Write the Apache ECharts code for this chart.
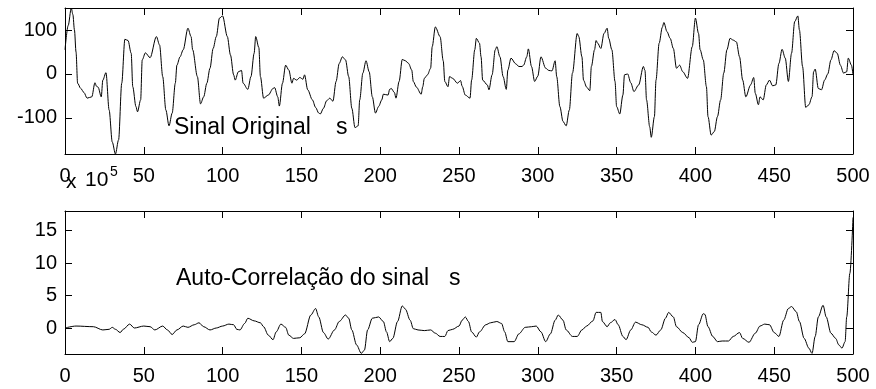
<!DOCTYPE html>
<html>
<head>
<meta charset="utf-8">
<script src="https://cdn.jsdelivr.net/npm/echarts@6/dist/echarts.min.js"></script>
<style>
  html, body { margin: 0; padding: 0; background: #fff; }
  #chart { width: 876px; height: 389px; }
</style>
</head>
<body>
<div id="chart"></div>
<script>
// Original signal s: sample index / amplitude
const sigIdx = [0,2,4,5,6,7,8,10,12,14,17,19,20,21,23,24,26,28,30,32,34,36,38,40,42,43,45,46,48,49,51,54,58,60,62,64,66,68,70,71,73,75,78,80,81,84,86,88,90,92,94,96,98,100,103,105,107,108,110,112,113,116,118,120,121,123,124,126,129,132,133,135,136,138,140,142,144,145,147,149,151,152,154,157,159,161,162,164,166,168,170,172,174,176,178,180,182,184,186,187,189,191,193,195,197,199,201,202,205,206,207,209,210,212,214,216,218,220,221,223,226,227,228,230,232,233,235,238,240,241,243,244,246,249,251,252,254,257,258,260,261,263,264,265,268,269,271,273,274,276,278,280,281,283,286,288,290,291,293,294,296,298,300,302,305,307,309,311,312,314,316,318,320,322,325,326,328,329,331,333,334,336,337,338,340,342,344,345,347,349,350,352,354,355,357,359,361,364,367,368,369,371,372,374,375,377,379,380,382,384,386,388,390,392,395,398,400,402,403,405,407,408,410,412,414,416,418,420,422,424,426,428,430,432,435,437,438,440,441,443,445,447,449,451,453,455,457,459,461,463,465,466,468,470,472,474,475,476,478,480,482,484,486,488,490,492,494,496,497,499,500];
const sigVal = [55,110,150,135,100,50,-21,-33,-42,-55,-52,-20,-28,-30,-52,-14,3,-82,-155,-182,-150,-21,79,76,47,-29,-74,-86,-59,32,48,37,85,66,-6,-82,-118,-89,-21,20,39,55,104,85,55,-6,-68,-52,-21,13,58,85,127,132,85,43,-2,-14,5,8,-21,-35,-6,47,85,60,-6,-55,-48,-33,-31,-52,-73,-21,20,9,-21,-10,-14,-8,-12,-2,-36,-59,-76,-89,-91,-78,-61,-55,-62,-17,24,39,32,-6,-78,-122,-118,-59,2,30,5,-52,-89,-74,-59,-46,-48,-35,-33,-42,-55,-17,33,30,24,9,-17,-30,-46,-29,-10,-2,13,62,107,85,30,-17,-29,-6,-10,-21,-15,-28,-48,-55,-14,55,81,70,39,-14,-25,-36,-2,55,62,39,-6,-35,9,36,23,17,17,20,39,57,17,-17,-5,39,13,8,7,30,-6,-74,-108,-118,-82,2,92,85,39,-14,-30,-38,17,55,76,70,58,92,104,81,55,-17,-74,-91,-48,-2,0,-20,-40,-25,17,8,-59,-120,-144,-97,-14,70,106,117,96,81,58,13,20,5,-10,62,127,92,55,32,-29,-97,-139,-131,-97,-59,2,55,81,77,73,39,-14,-52,-25,-8,-44,-70,-52,-59,-25,-14,-27,-25,24,56,36,-17,47,119,132,100,17,-76,-70,-52,5,11,-33,-36,-14,0,32,53,47,20,2,5,36,20,-2];

// Auto-correlation of s (units of 1e5): lag index / value
const acIdx = [0,7,18,24,28,30,32,35,37,41,44,50,54,57,62,65,68,71,75,78,82,85,88,92,96,100,104,107,109,111,114,116,120,124,126,129,132,134,137,140,142,145,149,152,156,159,161,164,167,171,174,178,180,182,185,188,190,192,195,199,202,204,206,208,211,214,216,219,221,224,228,232,235,238,241,243,246,250,252,254,256,258,261,263,267,270,274,277,279,281,285,288,292,296,299,302,305,308,311,313,316,318,322,325,328,331,335,337,340,341,344,346,349,351,354,356,359,362,366,370,372,375,378,381,383,386,388,392,396,398,400,402,405,406,408,411,414,417,421,424,428,430,434,438,441,444,447,450,453,456,459,461,464,466,469,472,474,476,478,481,483,486,489,491,493,495,496,498,500];
const acVal = [0,0.3,0.2,-0.3,-0.2,0.1,-0.2,-0.7,-0.2,0.6,0,0.3,0.2,-0.3,0.3,-0.3,-1.0,-0.3,0.3,0.1,0.5,0.8,0.2,-0.3,0,0.3,0.6,0.5,-0.2,-0.3,0.7,1.5,1.1,0.8,0.2,-1.1,-1.8,-0.6,0.6,0.1,-1.1,-1.6,-1.5,-0.9,2.0,3.0,1.7,-0.7,-1.7,-0.3,1.0,2.0,1.5,-0.3,-2.6,-3.9,-3.4,-0.3,1.5,1.7,1.0,-0.6,-2.1,-1.6,1.0,3.4,2.9,1.2,-0.1,-0.3,-0.4,-0.3,-0.8,-1.3,-1.3,-0.4,-0.2,0.3,1.2,1.7,1.0,-0.6,-1.4,-0.6,0.5,0.8,1.0,0.7,-0.6,-2.1,-2.1,-0.9,0.1,0.2,0.3,-0.6,-2.1,-0.9,1.2,2.0,1.2,-0.3,-1.3,-1.3,-0.3,0.3,1.1,2.4,2.4,1.0,0.2,0.8,1.3,0.5,-1.3,-1.8,-0.3,0.9,0.5,0.1,-0.6,-1.1,-0.3,1.5,2.4,1.7,0.2,-0.7,-1.5,-2.2,-2.1,0.5,2.2,2.1,0.2,-1.3,-2.1,-2.0,-2.0,-1.3,-0.7,-1.6,-2.2,-0.8,0.3,0.6,0.5,-0.7,-1.3,1.2,3.0,3.3,2.5,1.0,-1.6,-3.1,-3.9,-1.3,1.7,3.5,1.7,-0.8,-1.6,-2.6,-3.1,-2.1,1.7,8.4,17.0];

// Tick values
const xTicks = [0,50,100,150,200,250,300,350,400,450,500];
const sigTicks = [-100, 0, 100];
const acTicks = [0, 5, 10, 15];

const FONT = 'Liberation Sans, Arial, Helvetica, sans-serif';
const pairs = (xs, ys) => xs.map((x, i) => [x, ys[i]]);

const frameLine = { show: true, onZero: false, lineStyle: { color: '#000', width: 1 } };
function tick(values) {
  return { show: true, inside: true, length: 7, customValues: values,
           lineStyle: { color: '#000', width: 1 } };
}

function xAxisPair(grid) {
  return [
    { gridIndex: grid, type: 'value', min: 0, max: 500, interval: 50, position: 'bottom',
      axisLine: frameLine, axisTick: tick(xTicks), splitLine: { show: false },
      axisLabel: { show: true, fontSize: 20, color: '#000', fontFamily: FONT, margin: 12,
                   customValues: xTicks } },
    { gridIndex: grid, type: 'value', min: 0, max: 500, interval: 50, position: 'top',
      axisLine: frameLine, axisTick: tick(xTicks), splitLine: { show: false },
      axisLabel: { show: false } }
  ];
}
function yAxisPair(grid, min, max, ticks) {
  return [
    { gridIndex: grid, type: 'value', min: min, max: max, position: 'left',
      axisLine: frameLine, splitLine: { show: false }, axisTick: tick(ticks),
      axisLabel: { show: true, fontSize: 20, color: '#000', fontFamily: FONT, margin: 8,
                   customValues: ticks } },
    { gridIndex: grid, type: 'value', min: min, max: max, position: 'right',
      axisLine: frameLine, splitLine: { show: false }, axisTick: tick(ticks),
      axisLabel: { show: false } }
  ];
}

const chart = echarts.init(document.getElementById('chart'), null, { renderer: 'canvas' });
chart.setOption({
  animation: false,
  backgroundColor: '#fff',
  grid: [
    { left: 65, right: 23, top: 8, height: 146 },
    { left: 65, right: 23, top: 211, height: 143 }
  ],
  xAxis: [].concat(xAxisPair(0), xAxisPair(1)),
  yAxis: [].concat(yAxisPair(0, -182, 150, sigTicks), yAxisPair(1, -4, 18, acTicks)),
  series: [
    { type: 'line', xAxisIndex: 0, yAxisIndex: 0, data: pairs(sigIdx, sigVal),
      showSymbol: false, smooth: 0.3, smoothMonotone: 'x',
      lineStyle: { color: '#000', width: 1 } },
    { type: 'line', xAxisIndex: 2, yAxisIndex: 2, data: pairs(acIdx, acVal),
      showSymbol: false, smooth: 0.3, smoothMonotone: 'x',
      lineStyle: { color: '#000', width: 1 } }
  ],
  graphic: [
    { type: 'text', left: 174, top: 116, style: { text: 'Sinal Original', font: '23px ' + FONT, fill: '#000' } },
    { type: 'text', left: 336, top: 116, style: { text: 's', font: '23px ' + FONT, fill: '#000' } },
    { type: 'text', left: 176, top: 267, style: { text: 'Auto-Correlação do sinal', font: '23px ' + FONT, fill: '#000' } },
    { type: 'text', left: 449, top: 267, style: { text: 's', font: '23px ' + FONT, fill: '#000' } },
    { type: 'text', left: 66, top: 172, style: { text: 'x', font: '21px ' + FONT, fill: '#000' } },
    { type: 'text', left: 85, top: 170, style: { text: '10', font: '21px ' + FONT, fill: '#000' } },
    { type: 'text', left: 110, top: 165, style: { text: '5', font: '14px ' + FONT, fill: '#000' } }
  ]
});
</script>
</body>
</html>
